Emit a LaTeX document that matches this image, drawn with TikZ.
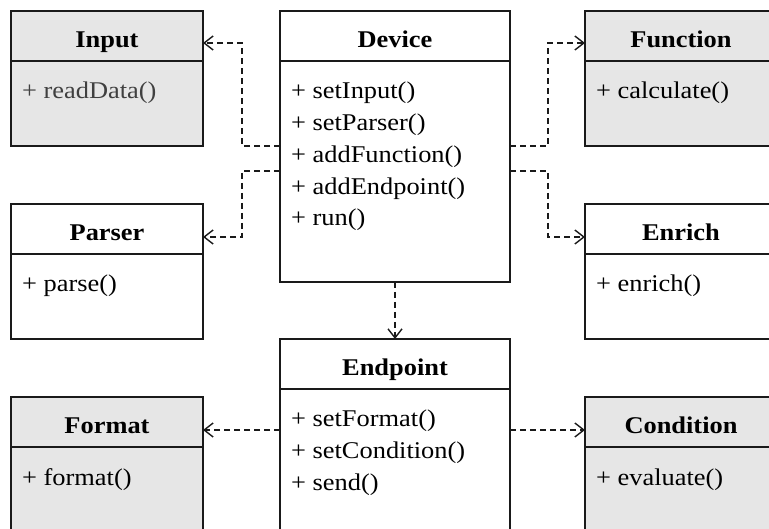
\documentclass[tikz,border=0pt]{standalone}
\usepackage{fontspec}
\setmainfont{Liberation Serif}[FakeStretch=1.1]
\usetikzlibrary{arrows.meta,calc}
\definecolor{boxgray}{HTML}{E6E6E6}
\definecolor{linecol}{HTML}{1A1A1A}
\begin{document}
\begin{tikzpicture}[x=1pt,y=-1pt,
  box/.style={draw=linecol, line width=1.8pt, anchor=north west,
    inner sep=0pt, outer sep=0pt, minimum width=#1},
  box/.default=192pt,
  gray box/.style={box=#1, fill=boxgray},
  gray box/.default=192pt,
  classtitle/.style={anchor=base, inner sep=0pt,
    font=\bfseries\fontsize{24}{28}\selectfont},
  meth/.style={anchor=base west, inner sep=0pt,
    font=\fontsize{24}{28}\selectfont},
  dep/.style={draw=linecol, line width=1.4pt, dash pattern=on 6pt off 4pt,
    -{Straight Barb[length=9pt,width=14pt,line width=1.4pt]}}
]
\useasboundingbox (0,0) rectangle (769,529);
\clip (0,0) rectangle (769,529);

% class boxes
\node[gray box, minimum height=135pt] (input)  at (11,11)  {};
\node[box=230pt, minimum height=271pt] (dev)   at (280,11) {};
\node[gray box, minimum height=135pt] (func)   at (585,11) {};
\node[box, minimum height=135pt] (parser)      at (11,204) {};
\node[box, minimum height=135pt] (enrich)      at (585,204) {};
\node[box=230pt, minimum height=271pt] (endp)  at (280,339) {};
\node[gray box, minimum height=135pt] (format) at (11,397) {};
\node[gray box, minimum height=135pt] (cond)   at (585,397) {};

% header separators, titles and operations
\foreach \n/\t in {input/Input, dev/Device, func/Function, parser/Parser,
                   enrich/Enrich, endp/Endpoint, format/Format, cond/Condition} {
  \draw[draw=linecol, line width=1.8pt]
    ($(\n.north west)+(0,50)$) -- ($(\n.north east)+(0,50)$);
  \node[classtitle] (\n-title) at ($(\n.north)+(0,37)$) {\t};
}

\newcommand\opslist[2]{%
  \foreach \op [count=\i] in {#2}
    \node[meth] (#1-op\i) at ($(#1.north west)+(11,{88+(\i-1)*31.7})$) {\op};
}
\opslist{input}{\color{black!75}+ readData()}
\opslist{dev}{+ setInput(), + setParser(), + addFunction(), + addEndpoint(), + run()}
\opslist{func}{+ calculate()}
\opslist{parser}{+ parse()}
\opslist{enrich}{+ enrich()}
\opslist{endp}{+ setFormat(), + setCondition(), + send()}
\opslist{format}{+ format()}
\opslist{cond}{+ evaluate()}

% dependencies
\draw[dep] ($(dev.north west)+(0,135)$) -| (242,43) -- ($(input.north east)+(0,32)$);
\draw[dep] ($(dev.north west)+(0,160)$) -| (242,237) -- ($(parser.north east)+(0,33)$);
\draw[dep] ($(dev.north east)+(0,135)$) -| (548,43) -- ($(func.north west)+(0,32)$);
\draw[dep] ($(dev.north east)+(0,160)$) -| (548,237) -- ($(enrich.north west)+(0,33)$);
\draw[dep] (dev.south) -- (endp.north);
\draw[dep] ($(endp.north west)+(0,91)$) -- ($(format.north east)+(0,33)$);
\draw[dep] ($(endp.north east)+(0,91)$) -- ($(cond.north west)+(0,33)$);
\end{tikzpicture}
\end{document}
